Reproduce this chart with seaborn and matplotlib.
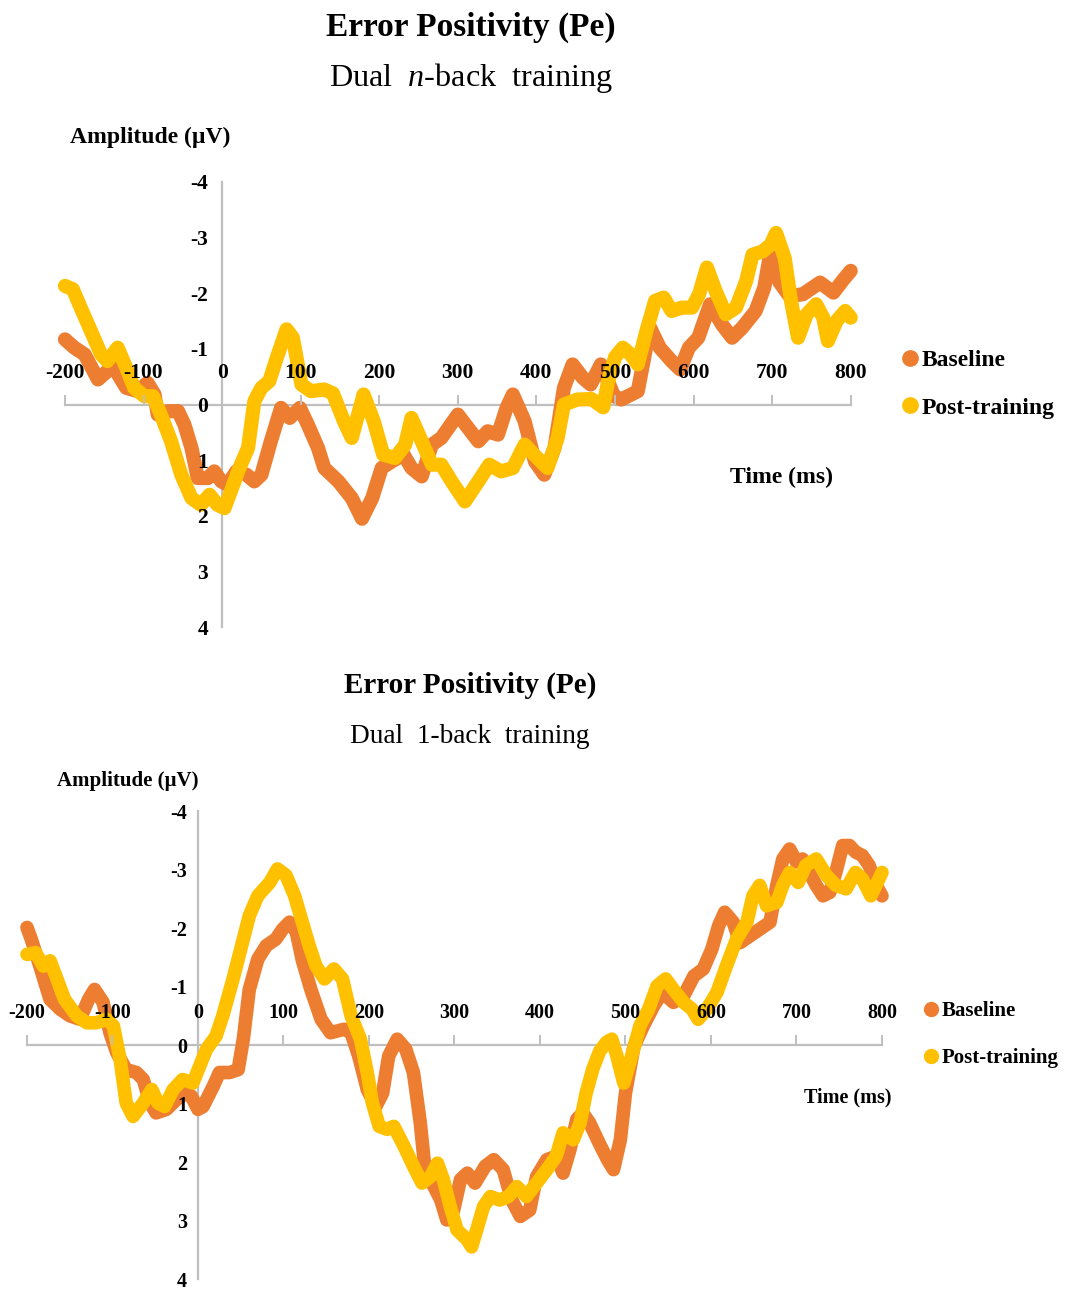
import numpy as np
import pandas as pd
import matplotlib
matplotlib.use("Agg")
import matplotlib.pyplot as plt
from matplotlib.lines import Line2D
import seaborn as sns

# ---------------- data ----------------
conditions = ["Baseline", "Post-training"]
colors = ["#ED7D31", "#FFC000"]

x_ticks = [-200, -100, 0, 100, 200, 300, 400, 500, 600, 700, 800]
x_tick_labels = ["-200", "-100", "0", "100", "200", "300", "400", "500", "600", "700", "800"]
y_ticks = [-4, -3, -2, -1, 0, 1, 2, 3, 4]
y_tick_labels = ["-4", "-3", "-2", "-1", "0", "1", "2", "3", "4"]

# Panel 1: Dual n-back training
nback_base_t = [-200, -188, -175, -158, -139, -122, -107, -95, -86, -82, -69, -56, -48, -39, -31,
                -18, -10, -1, 7, 18, 31, 41, 50, 62, 75, 86, 99, 109, 122, 130, 148, 165, 178,
                191, 203, 216, 231, 241, 254, 267, 279, 300, 313, 326, 338, 351, 362, 370, 385,
                398, 410, 423, 435, 446, 459, 469, 482, 499, 508, 529, 538, 544, 557, 572, 583,
                594, 606, 621, 636, 649, 662, 679, 690, 698, 709, 722, 739, 761, 778, 791, 800]
nback_base_v = [-1.17, -1.02, -0.90, -0.45, -0.69, -0.30, -0.24, -0.39, -0.18, 0.18, 0.12, 0.12,
                0.36, 0.78, 1.32, 1.32, 1.20, 1.38, 1.44, 1.20, 1.26, 1.38, 1.26, 0.66, 0.06,
                0.24, 0.06, 0.36, 0.78, 1.14, 1.38, 1.68, 2.05, 1.68, 1.14, 1.02, 0.90, 1.14,
                1.29, 0.72, 0.60, 0.18, 0.42, 0.66, 0.48, 0.54, 0.06, -0.18, 0.30, 1.02, 1.26,
                0.78, -0.30, -0.72, -0.48, -0.36, -0.72, -0.15, -0.09, -0.24, -0.90, -1.40,
                -1.02, -0.78, -0.63, -1.02, -1.20, -1.80, -1.44, -1.20, -1.38, -1.68, -2.10,
                -2.75, -2.20, -1.95, -1.98, -2.19, -2.01, -2.25, -2.40]

nback_post_t = [-200, -190, -180, -167, -154, -146, -133, -122, -112, -99, -88, -78, -65, -52,
                -39, -27, -16, -6, 3, 11, 22, 33, 41, 50, 60, 71, 82, 90, 101, 113, 130, 141,
                155, 165, 180, 193, 205, 220, 233, 241, 254, 267, 279, 292, 309, 326, 340, 355,
                370, 385, 397, 414, 427, 435, 452, 470, 485, 491, 500, 510, 520, 529, 540, 551,
                562, 572, 585, 598, 607, 617, 628, 641, 654, 667, 675, 688, 698, 705, 716, 724,
                733, 744, 756, 765, 771, 782, 793, 800]
nback_post_v = [-2.13, -2.07, -1.74, -1.32, -0.90, -0.78, -1.02, -0.66, -0.30, -0.15, -0.15,
                0.18, 0.66, 1.26, 1.68, 1.80, 1.62, 1.80, 1.86, 1.56, 1.14, 0.78, -0.06, -0.30,
                -0.42, -0.90, -1.35, -1.20, -0.36, -0.24, -0.27, -0.20, 0.30, 0.60, -0.18, 0.30,
                0.90, 0.96, 0.72, 0.24, 0.66, 1.08, 1.08, 1.38, 1.74, 1.38, 1.08, 1.20, 1.14,
                0.72, 0.90, 1.14, 0.60, 0.00, -0.09, -0.10, 0.05, -0.40, -0.85, -1.02, -0.90,
                -0.72, -1.32, -1.86, -1.92, -1.68, -1.74, -1.74, -1.98, -2.46, -2.04, -1.62,
                -1.74, -2.22, -2.69, -2.75, -2.87, -3.08, -2.63, -1.86, -1.20, -1.62, -1.80,
                -1.56, -1.14, -1.50, -1.68, -1.56]

# Panel 2: Dual 1-back training
oneback_base_t = [-200, -195, -185, -173, -161, -150, -138, -128, -121, -111, -103, -95, -84,
                  -72, -64, -56, -49, -37, -25, -14, -8, 0, 6, 18, 25, 37, 47, 53, 60, 70, 80,
                  91, 99, 107, 115, 122, 132, 144, 155, 171, 179, 188, 198, 208, 216, 223, 233,
                  243, 252, 260, 266, 276, 284, 291, 299, 307, 315, 324, 336, 346, 357, 367, 377,
                  388, 396, 408, 419, 427, 435, 443, 450, 458, 470, 479, 486, 494, 500, 510, 521,
                  533, 543, 556, 568, 580, 591, 601, 609, 616, 626, 634, 646, 657, 669, 677, 684,
                  692, 700, 707, 715, 723, 731, 739, 746, 754, 762, 769, 777, 785, 793, 800]
oneback_base_v = [-2.01, -1.81, -1.35, -0.78, -0.61, -0.50, -0.44, -0.78, -0.95, -0.73, -0.21,
                  0.13, 0.42, 0.47, 0.59, 0.99, 1.16, 1.10, 0.93, 0.82, 0.87, 1.10, 1.05, 0.70,
                  0.47, 0.47, 0.42, -0.10, -0.95, -1.47, -1.70, -1.81, -1.98, -2.10, -1.93, -1.45,
                  -0.95, -0.44, -0.21, -0.27, -0.21, 0.19, 0.76, 1.05, 0.82, 0.19, -0.10, 0.07,
                  0.47, 1.33, 2.19, 2.42, 2.65, 2.99, 2.82, 2.30, 2.19, 2.36, 2.07, 1.96, 2.13,
                  2.65, 2.93, 2.82, 2.25, 1.96, 1.90, 2.19, 1.79, 1.27, 1.16, 1.33, 1.70, 1.96,
                  2.13, 1.62, 0.82, 0.02, -0.33, -0.67, -0.90, -0.73, -0.84, -1.18, -1.30, -1.64,
                  -2.04, -2.27, -2.10, -1.75, -1.87, -1.98, -2.10, -2.73, -3.18, -3.35, -3.13,
                  -3.18, -2.95, -2.73, -2.55, -2.61, -2.95, -3.41, -3.41, -3.30, -3.24, -3.07,
                  -2.73, -2.55]

oneback_post_t = [-200, -190, -181, -173, -165, -156, -142, -130, -119, -107, -99, -91, -84,
                  -76, -64, -54, -47, -39, -29, -18, -6, 2, 10, 21, 29, 41, 53, 60, 70, 84, 93,
                  103, 113, 122, 130, 138, 148, 159, 169, 179, 190, 198, 204, 212, 221, 229, 241,
                  252, 262, 272, 280, 287, 295, 303, 315, 320, 326, 334, 342, 353, 363, 373, 384,
                  396, 408, 419, 427, 439, 447, 454, 462, 470, 478, 484, 490, 498, 506, 517, 527,
                  537, 547, 556, 568, 578, 585, 595, 607, 618, 630, 642, 649, 657, 665, 677, 684,
                  692, 702, 711, 723, 735, 746, 758, 769, 777, 787, 793, 800]
oneback_post_v = [-1.55, -1.58, -1.35, -1.44, -1.13, -0.78, -0.50, -0.38, -0.38, -0.44, -0.33,
                  0.25, 0.99, 1.22, 0.99, 0.76, 0.99, 1.05, 0.76, 0.59, 0.65, 0.36, 0.07, -0.15,
                  -0.50, -1.13, -1.81, -2.21, -2.55, -2.78, -3.01, -2.90, -2.55, -2.10, -1.70,
                  -1.35, -1.13, -1.30, -1.13, -0.50, -0.10, 0.47, 0.99, 1.39, 1.44, 1.39, 1.73,
                  2.07, 2.36, 2.25, 2.02, 2.30, 2.76, 3.16, 3.33, 3.45, 3.16, 2.76, 2.59, 2.65,
                  2.59, 2.42, 2.59, 2.36, 2.13, 1.90, 1.50, 1.62, 1.33, 0.82, 0.40, 0.10, -0.05,
                  -0.10, 0.19, 0.65, 0.25, -0.33, -0.61, -1.01, -1.13, -0.95, -0.73, -0.61, -0.44,
                  -0.61, -0.90, -1.35, -1.81, -2.10, -2.55, -2.73, -2.38, -2.44, -2.73, -2.95,
                  -2.78, -3.07, -3.18, -2.90, -2.73, -2.67, -2.95, -2.84, -2.55, -2.73, -2.95]

# ---------------- style ----------------
sns.set_theme(style="white")
plt.rcParams["font.family"] = ["Liberation Serif", "DejaVu Serif"]
plt.rcParams["mathtext.fontset"] = "custom"
plt.rcParams["mathtext.rm"] = "Liberation Serif"
plt.rcParams["mathtext.it"] = "Liberation Serif:italic"
plt.rcParams["axes.unicode_minus"] = False
plt.rcParams["text.color"] = "black"
plt.rcParams["xtick.color"] = "black"
plt.rcParams["ytick.color"] = "black"
plt.rcParams["axes.labelcolor"] = "black"

AXIS_COLOR = "#BFBFBF"
palette = dict(zip(conditions, colors))


def make_df(bt, bv, pt, pv):
    return pd.DataFrame({
        "Time": list(bt) + list(pt),
        "Amplitude": list(bv) + list(pv),
        "Condition": [conditions[0]] * len(bt) + [conditions[1]] * len(pt),
    })


def draw_panel(ax, df, tick_size, ypad, lw):
    sns.lineplot(data=df, x="Time", y="Amplitude", hue="Condition", hue_order=conditions,
                 palette=palette, linewidth=lw, estimator=None, sort=True, ax=ax,
                 legend=False)
    for ln in ax.lines:
        ln.set_solid_capstyle("round")
        ln.set_solid_joinstyle("round")
        ln.set_clip_on(False)
    ax.set_xlim(-200, 800)
    ax.set_ylim(4, -4)
    ax.spines["left"].set_position(("data", 0))
    ax.spines["bottom"].set_position(("data", 0))
    ax.spines["top"].set_visible(False)
    ax.spines["right"].set_visible(False)
    for s in ("left", "bottom"):
        ax.spines[s].set_color(AXIS_COLOR)
        ax.spines[s].set_linewidth(1.6)
        ax.spines[s].set_zorder(1)
    ax.set_xticks(x_ticks)
    ax.set_xticklabels(x_tick_labels, fontsize=tick_size, fontweight="bold")
    ax.set_yticks(y_ticks)
    ax.set_yticklabels(y_tick_labels, fontsize=tick_size, fontweight="bold")
    ax.tick_params(axis="x", direction="in", length=7, width=1.4, color=AXIS_COLOR,
                   pad=-23, labelcolor="black", bottom=True)
    for lbl in ax.get_xticklabels():
        lbl.set_verticalalignment("center")
    ax.tick_params(axis="y", length=0, pad=ypad, labelcolor="black", left=True)
    ax.xaxis.set_zorder(3)
    ax.yaxis.set_zorder(3)
    ax.set_xlabel("")
    ax.set_ylabel("")
    ax.patch.set_alpha(0)
    ax.grid(False)


fig = plt.figure(figsize=(10.67, 12.9), dpi=100)

ax1 = fig.add_axes([0.0609, 0.5137, 0.7364, 0.3454])
draw_panel(ax1, make_df(nback_base_t, nback_base_v, nback_post_t, nback_post_v), 15.5, 10, 10.2)

ax2 = fig.add_axes([0.0253, 0.0085, 0.8013, 0.3628])
draw_panel(ax2, make_df(oneback_base_t, oneback_base_v, oneback_post_t, oneback_post_v),
           14.5, 8, 9.8)

# titles
fig.text(0.4414, 0.979, "Error Positivity (Pe)", ha="center", va="center",
         fontsize=24, fontweight="bold")
fig.text(0.4414, 0.9395, r"Dual  $n$-back  training", ha="center", va="center", fontsize=23.2)
fig.text(0.4405, 0.469, "Error Positivity (Pe)", ha="center", va="center",
         fontsize=21, fontweight="bold")
fig.text(0.4405, 0.4287, "Dual  1-back  training", ha="center", va="center", fontsize=19.6)

# axis labels
fig.text(0.0656, 0.8938, "Amplitude (µV)", ha="left", va="center", fontsize=17,
         fontweight="bold")
fig.text(0.0534, 0.3946, "Amplitude (µV)", ha="left", va="center", fontsize=15,
         fontweight="bold")
fig.text(0.732, 0.6295, "Time (ms)", ha="center", va="center", fontsize=17, fontweight="bold")
fig.text(0.7948, 0.1496, "Time (ms)", ha="center", va="center", fontsize=14.5,
         fontweight="bold")

# legends
def legend_handles(ms):
    return [Line2D([], [], marker="o", linestyle="", color=c, markersize=ms) for c in colors]

fig.legend(legend_handles(11), conditions, loc="center left", bbox_to_anchor=(0.8463, 0.7023),
           frameon=False, prop={"weight": "bold", "size": 17}, handlelength=0.6,
           handletextpad=0.2, labelspacing=1.1, borderpad=0, borderaxespad=0)
fig.legend(legend_handles(10), conditions, loc="center left", bbox_to_anchor=(0.8669, 0.198),
           frameon=False, prop={"weight": "bold", "size": 15}, handlelength=0.6,
           handletextpad=0.2, labelspacing=1.3, borderpad=0, borderaxespad=0)

fig.savefig("out.png", dpi=100)
